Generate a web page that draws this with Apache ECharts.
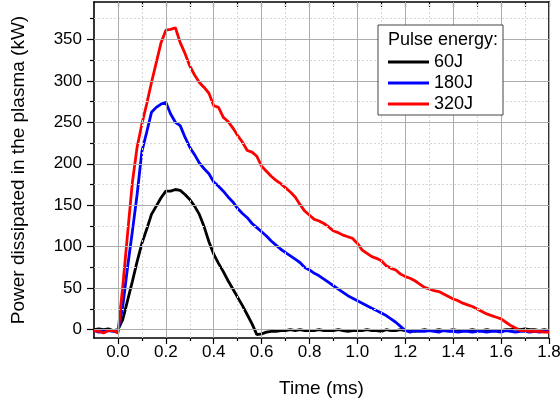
<!DOCTYPE html>
<html><head><meta charset="utf-8">
<script src="https://cdn.jsdelivr.net/npm/echarts@6/dist/echarts.min.js"></script>
<style>html,body{margin:0;padding:0;background:#fff}#c{width:560px;height:403px}</style>
</head><body><div id="c"></div>
<script>
const time = [-0.10,-0.08,-0.06,-0.04,-0.02,0.00,0.02,0.04,0.06,0.08,0.10,0.12,0.14,0.16,0.18,0.20,0.22,0.24,0.26,0.28,0.30,0.32,0.34,0.36,0.38,0.40,0.42,0.44,0.46,0.48,0.50,0.52,0.54,0.56,0.58,0.60,0.62,0.64,0.66,0.68,0.70,0.72,0.74,0.76,0.78,0.80,0.82,0.84,0.86,0.88,0.90,0.92,0.94,0.96,0.98,1.00,1.02,1.04,1.06,1.08,1.10,1.12,1.14,1.16,1.18,1.20,1.22,1.24,1.26,1.28,1.30,1.32,1.34,1.36,1.38,1.40,1.42,1.44,1.46,1.48,1.50,1.52,1.54,1.56,1.58,1.60,1.62,1.64,1.66,1.68,1.70,1.72,1.74,1.76,1.78,1.80];
const p60 = [0,1,0,1,-1,0,12,35,58,82,104,121,139,149,159,167,167,169,168,163,157,149,139,124,106,91,80,70,59,49,39,29,18,7,-6,-5,-3,-2,-2,-1,-1,0,-1,0,-1,-1,-1,0,-1,-1,-1,0,-1,-2,-1,-1,-1,0,-1,-1,-2,0,-1,-1,0,-1,-1,-2,-1,0,-1,-1,0,-1,-1,0,-1,-1,-1,0,-1,-1,0,-1,-1,-1,0,0,1,0,1,0,0,-1,0,-1];
const p180 = [-1,-3,-2,-1,-2,-2,28,75,118,163,215,238,262,268,272,274,260,250,246,232,220,211,201,194,188,178,173,167,160,154,146,140,135,128,123,118,113,107,102,97,93,89,85,81,75,72,68,65,61,57,53,49,45,41,38,35,32,29,26,23,20,17,13,9,4,-1,-3,-1,-2,-2,-1,-2,-3,-1,-2,-2,-3,-2,-2,-3,-2,-2,-3,-2,-2,-3,-1,-2,-3,-2,-2,-3,-2,-3,-2,-2];
const p320 = [-1,-2,-4,-1,-1,-4,52,115,177,220,248,272,298,322,346,361,362,364,346,333,318,307,298,292,285,270,268,256,251,243,234,226,216,214,209,197,191,185,180,176,171,166,160,151,143,138,133,131,128,124,119,117,114,112,110,104,96,92,88,86,83,77,74,72,67,64,62,59,55,51,49,47,46,43,40,37,35,32,30,28,25,22,19,17,15,13,9,5,2,-1,-1,-2,-2,-2,-3,-3];
const seriesNames = ['60J','180J','320J'];
const seriesColors = ['#000000','#0000ff','#ff0000'];
const xMajorTicks = [0.0,0.2,0.4,0.6,0.8,1.0,1.2,1.4,1.6,1.8];
const xMinorTicks = [0.1,0.3,0.5,0.7,0.9,1.1,1.3,1.5,1.7];
const yMajorTicks = [0,50,100,150,200,250,300,350];
const yMinorTicks = [25,75,125,175,225,275,325,375];
const legendTitle = 'Pulse energy:';
const xTitle = 'Time (ms)';
const yTitle = 'Power dissipated in the plasma (kW)';

const FONT = "'Liberation Sans', Arial, sans-serif";
const X_MIN = -0.1, X_MAX = 1.8, Y_MIN = -10, Y_MAX = 395;
const chart = echarts.init(document.getElementById('c'), null, {renderer: 'canvas'});
const axisLineStyle = {color: '#000', width: 1.6};
const majorGrid = {color: '#acacac', width: 1, type: 'solid'};
const minorGrid = {color: '#d6d6d6', width: 1, type: [2, 2]};

const gridLines = []
  .concat(xMinorTicks.map(v => ({xAxis: v, lineStyle: minorGrid})))
  .concat(yMinorTicks.map(v => ({yAxis: v, lineStyle: minorGrid})))
  .concat(xMajorTicks.map(v => ({xAxis: v, lineStyle: majorGrid})))
  .concat(yMajorTicks.map(v => ({yAxis: v, lineStyle: majorGrid})));

const dataSeries = [p60, p180, p320].map((arr, i) => ({
  name: seriesNames[i],
  type: 'line',
  xAxisIndex: 0, yAxisIndex: 0,
  data: time.map((t, j) => [t, arr[j]]),
  showSymbol: false,
  symbol: 'none',
  lineStyle: {color: seriesColors[i], width: 2.8},
  itemStyle: {color: seriesColors[i]},
  z: 3,
  animation: false
}));

chart.setOption({
  animation: false,
  backgroundColor: '#fff',
  grid: {left: 94, right: 11, top: 2, bottom: 65, containLabel: false, outerBoundsMode: 'none'},
  xAxis: [
    {type: 'value', position: 'bottom', min: X_MIN, max: X_MAX,
     axisLine: {show: true, lineStyle: axisLineStyle, onZero: false},
     axisTick: {show: true, customValues: xMajorTicks, length: 6, inside: false, lineStyle: {color: '#000', width: 1.2}},
     axisLabel: {show: true, customValues: xMajorTicks, formatter: v => Number(v).toFixed(1), fontSize: 17, fontFamily: FONT, color: '#000', margin: 6},
     splitLine: {show: false},
     name: xTitle, nameLocation: 'middle', nameGap: 41,
     nameTextStyle: {fontSize: 19, fontFamily: FONT, color: '#000'}},
    {type: 'value', position: 'bottom', min: X_MIN, max: X_MAX,
     axisLine: {show: false, onZero: false},
     axisTick: {show: true, customValues: xMinorTicks, length: 3, inside: false, lineStyle: {color: '#000', width: 1.2}},
     axisLabel: {show: false}, splitLine: {show: false}},
    {type: 'value', position: 'top', min: X_MIN, max: X_MAX,
     axisLine: {show: true, lineStyle: axisLineStyle, onZero: false},
     axisTick: {show: true, customValues: xMajorTicks.concat(xMinorTicks), length: 5, inside: true, lineStyle: {color: '#000', width: 1.2}},
     axisLabel: {show: false}, splitLine: {show: false}}
  ],
  yAxis: [
    {type: 'value', position: 'left', min: Y_MIN, max: Y_MAX,
     axisLine: {show: true, lineStyle: axisLineStyle, onZero: false},
     axisTick: {show: true, customValues: yMajorTicks, length: 7, inside: false, lineStyle: {color: '#000', width: 1.2}},
     axisLabel: {show: true, customValues: yMajorTicks, fontSize: 17, fontFamily: FONT, color: '#000', margin: 12},
     splitLine: {show: false},
     name: yTitle, nameLocation: 'middle', nameGap: 66, nameRotate: 90,
     nameTextStyle: {fontSize: 19, fontFamily: FONT, color: '#000'}},
    {type: 'value', position: 'left', min: Y_MIN, max: Y_MAX,
     axisLine: {show: false, onZero: false},
     axisTick: {show: true, customValues: yMinorTicks, length: 4, inside: false, lineStyle: {color: '#000', width: 1.2}},
     axisLabel: {show: false}, splitLine: {show: false}},
    {type: 'value', position: 'right', min: Y_MIN, max: Y_MAX,
     axisLine: {show: true, lineStyle: axisLineStyle, onZero: false},
     axisTick: {show: false}, axisLabel: {show: false}, splitLine: {show: false}}
  ],
  legend: {
    data: seriesNames, orient: 'vertical', left: 383, top: 47,
    itemWidth: 41, itemHeight: 3, itemGap: 1, icon: 'rect', padding: 5,
    textStyle: {fontSize: 18, lineHeight: 20, fontFamily: FONT, color: '#000'},
    z: 20
  },
  graphic: [
    {type: 'rect', z: 15, shape: {x: 378, y: 25, width: 125, height: 90},
     style: {fill: '#fff', stroke: '#444', lineWidth: 1}},
    {type: 'text', z: 16, x: 388, y: 40,
     style: {text: legendTitle, fontSize: 18, fontFamily: FONT, fill: '#000', verticalAlign: 'middle', align: 'left'}}
  ],
  series: [
    {name: 'grid', type: 'line', data: [], z: 1, silent: true,
     markLine: {silent: true, symbol: ['none', 'none'], label: {show: false}, animation: false, data: gridLines}}
  ].concat(dataSeries)
});
</script>
</body></html>
